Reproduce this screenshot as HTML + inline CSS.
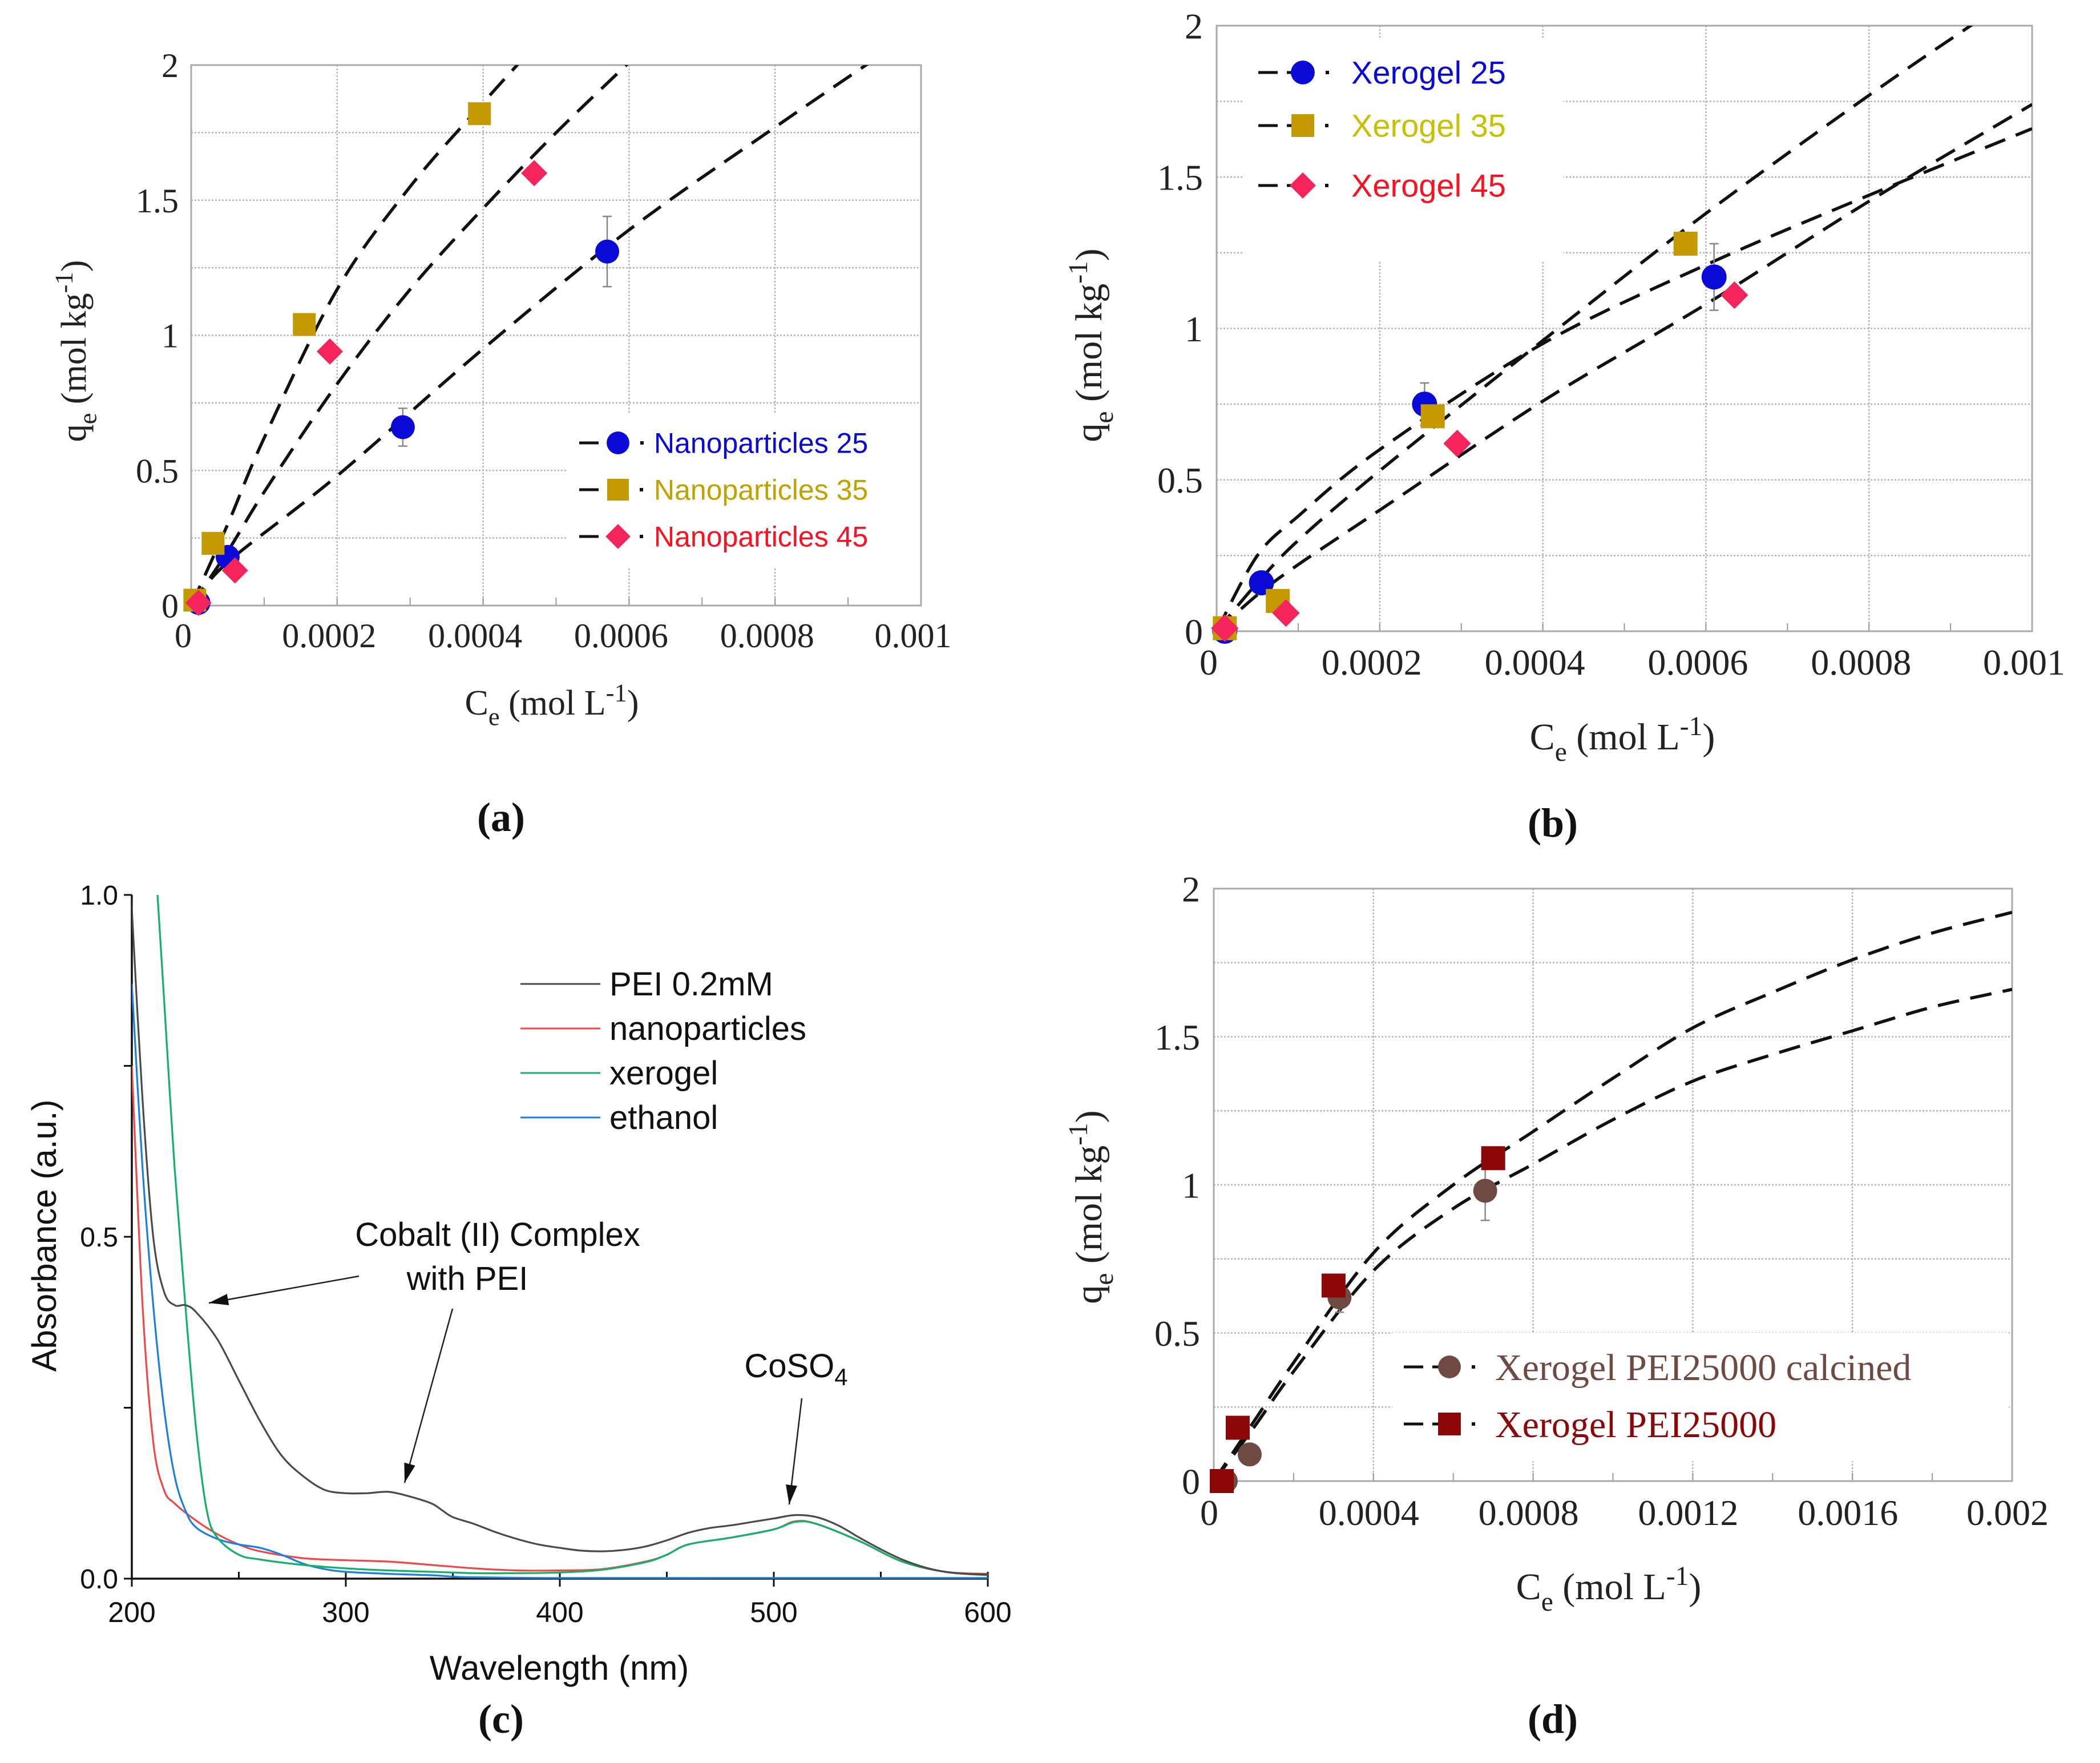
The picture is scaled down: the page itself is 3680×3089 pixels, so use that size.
<!DOCTYPE html>
<html><head><meta charset="utf-8"><title>Adsorption isotherms and UV-Vis spectra</title>
<style>html,body{margin:0;padding:0;background:#fff}svg{display:block}</style></head>
<body>
<svg id="fig" xmlns="http://www.w3.org/2000/svg" width="3680" height="3089" viewBox="0 0 3680 3089">
<rect width="3680" height="3089" fill="#fff"/>
<defs>
<clipPath id="clipA"><rect x="335" y="114" width="1279" height="947"/></clipPath>
<clipPath id="clipB"><rect x="2132" y="45" width="1429" height="1061"/></clipPath>
<clipPath id="clipC"><rect x="231" y="1400" width="1500" height="1367"/></clipPath>
<clipPath id="clipD"><rect x="2127" y="1557" width="1399" height="1038"/></clipPath>
</defs>
</svg>
<script>
// ---------- Panel (a) data ----------
const aN25x=[0.00001,0.00005,0.00029,0.00057];
const aN25y=[0.01,0.18,0.66,1.31];
const aN25err=[0,0,0.07,0.13];
const aN35x=[0.000005,0.00003,0.000155,0.000395];
const aN35y=[0.02,0.23,1.04,1.82];
const aN45x=[0.00001,0.00006,0.00019,0.00047];
const aN45y=[0.01,0.13,0.94,1.60];
const aFit25x=[0,0.00005,0.0002,0.0004,0.0006,0.0008,0.00093];
const aFit25y=[0,0.16,0.48,0.95,1.39,1.77,2.01];
const aFit35x=[0,0.00005,0.0001,0.0002,0.0003,0.0004,0.00045];
const aFit35y=[0,0.30,0.62,1.17,1.55,1.86,2.01];
const aFit45x=[0,0.00005,0.0001,0.0002,0.0003,0.0004,0.0005,0.0006];
const aFit45y=[0,0.20,0.42,0.82,1.17,1.47,1.75,2.01];
const aXTicks=["0","0.0002","0.0004","0.0006","0.0008","0.001"];
const aYTicks=["0","0.5","1","1.5","2"];
// ---------- Panel (b) data ----------
const bX25x=[0.00001,0.000055,0.000255,0.00061];
const bX25y=[0.0,0.16,0.75,1.17];
const bX25err=[0,0,0.07,0.11];
const bX35x=[0.00001,0.000075,0.000265,0.000575];
const bX35y=[0.01,0.10,0.71,1.28];
const bX45x=[0.00001,0.000085,0.000295,0.000635];
const bX45y=[0.01,0.06,0.62,1.11];
const bFit25x=[0,0.00005,0.0001,0.0002,0.0004,0.0006,0.0008,0.001];
const bFit25y=[0,0.25,0.38,0.60,0.95,1.21,1.44,1.66];
const bFit35x=[0,0.00005,0.0001,0.0002,0.0004,0.0006,0.0008,0.00093];
const bFit35y=[0,0.16,0.30,0.53,0.96,1.38,1.77,2.01];
const bFit45x=[0,0.00005,0.0001,0.0002,0.0004,0.0006,0.0008,0.001];
const bFit45y=[0,0.12,0.22,0.40,0.76,1.08,1.42,1.74];
const bXTicks=["0","0.0002","0.0004","0.0006","0.0008","0.001"];
const bYTicks=["0","0.5","1","1.5","2"];
// ---------- Panel (c) data ----------
const cPEIx=[199,200,205,210,215,220,225,230,240,250,260,270,280,290,300,310,320,330,340,345,350,360,370,380,390,400,410,420,430,440,450,460,470,480,490,500,510,520,530,540,550,560,570,580,590,600];
const cPEIy=[1.05,0.98,0.70,0.50,0.42,0.40,0.40,0.39,0.35,0.29,0.23,0.18,0.15,0.13,0.125,0.125,0.127,0.12,0.11,0.10,0.09,0.08,0.068,0.058,0.05,0.045,0.041,0.04,0.042,0.047,0.056,0.067,0.074,0.078,0.083,0.088,0.093,0.09,0.078,0.06,0.043,0.028,0.017,0.01,0.007,0.006];
const cNanox=[200,205,210,215,220,230,240,250,260,280,300,320,340,360,380,400,420,440,450,460,480,500,510,520,540,560,580,600];
const cNanoy=[0.75,0.40,0.20,0.13,0.11,0.085,0.065,0.05,0.04,0.03,0.027,0.025,0.02,0.015,0.012,0.012,0.014,0.025,0.035,0.05,0.06,0.072,0.084,0.08,0.055,0.025,0.01,0.007];
const cXeroX=[212,215,220,225,230,235,240,250,260,280,300,320,340,360,380,400,420,440,450,460,480,500,510,520,540,560,580,600];
const cXeroY=[1.0,0.85,0.60,0.40,0.22,0.10,0.06,0.035,0.028,0.02,0.015,0.012,0.01,0.008,0.008,0.009,0.013,0.024,0.035,0.05,0.06,0.072,0.083,0.08,0.055,0.025,0.01,0.005];
const cEthX=[200,205,210,215,220,225,230,240,250,260,270,280,290,300,320,340,350,360,400,500,600];
const cEthY=[0.87,0.60,0.40,0.25,0.15,0.10,0.075,0.058,0.05,0.045,0.035,0.022,0.014,0.01,0.007,0.005,0.003,0.002,0.001,0.001,0.001];
const cXTicks=["200","300","400","500","600"];
const cYTicks=["0.0","0.5","1.0"];
// ---------- Panel (d) data ----------
const dCalX=[0.00003,0.00009,0.000315,0.00068];
const dCalY=[0.0,0.09,0.62,0.98];
const dCalErr=[0,0,0.05,0.10];
const dPeiX=[0.00002,0.00006,0.0003,0.0007];
const dPeiY=[0.0,0.18,0.66,1.09];
const dFitPx=[0,0.0001,0.0002,0.0004,0.0006,0.0008,0.001,0.0012,0.0014,0.0016,0.0018,0.002];
const dFitPy=[0,0.20,0.40,0.77,1.00,1.18,1.36,1.53,1.65,1.76,1.85,1.92];
const dFitCx=[0,0.0001,0.0002,0.0004,0.0006,0.0008,0.001,0.0012,0.0014,0.0016,0.0018,0.002];
const dFitCy=[0,0.18,0.37,0.71,0.92,1.07,1.22,1.35,1.44,1.52,1.60,1.66];
const dXTicks=["0","0.0004","0.0008","0.0012","0.0016","0.002"];
const dYTicks=["0","0.5","1","1.5","2"];

const NS="http://www.w3.org/2000/svg";
const svg=document.getElementById('fig');
function mk(tag,attrs,parent){const e=document.createElementNS(NS,tag);for(const k in attrs)e.setAttribute(k,attrs[k]);(parent||svg).appendChild(e);return e;}
function lin(d0,d1,r0,r1){return v=>r0+(v-d0)/(d1-d0)*(r1-r0);}
const SERIF='"Liberation Serif", serif';
const SANS='"Liberation Sans", sans-serif';

function marker(g,shape,cx,cy,color,s){
  let m;
  if(shape==='circle'){m=mk('circle',{cx:cx,cy:cy,r:s,fill:color},g);}
  else if(shape==='square'){m=mk('rect',{x:cx-s,y:cy-s,width:2*s,height:2*s,fill:color},g);}
  else {m=mk('polygon',{points:`${cx},${cy-s*1.15} ${cx+s*1.15},${cy} ${cx},${cy+s*1.15} ${cx-s*1.15},${cy}`,fill:color},g);}
  return m;
}
function smoothPath(xs,ys,sx,sy){
  const p=xs.map((x,i)=>[sx(x),sy(ys[i])]);
  let d='M'+p[0][0].toFixed(1)+','+p[0][1].toFixed(1);
  for(let i=0;i<p.length-1;i++){
    const p0=p[Math.max(0,i-1)],p1=p[i],p2=p[i+1],p3=p[Math.min(p.length-1,i+2)];
    const c1=[p1[0]+(p2[0]-p0[0])/6,p1[1]+(p2[1]-p0[1])/6];
    const c2=[p2[0]-(p3[0]-p1[0])/6,p2[1]-(p3[1]-p1[1])/6];
    d+=` C${c1[0].toFixed(1)},${c1[1].toFixed(1)} ${c2[0].toFixed(1)},${c2[1].toFixed(1)} ${p2[0].toFixed(1)},${p2[1].toFixed(1)}`;
  }
  return d;
}
function axisTitle(g,x,y,main,sub,mid,sup,end,size,rot,name){
  const t=mk('text',{x:x,y:y,'font-family':SERIF,'font-size':size,'text-anchor':'middle',fill:'#222'},g);
  if(rot)t.setAttribute('transform',`rotate(-90 ${x} ${y})`);
  
  
  const a=mk('tspan',{},t);a.textContent=main;
  const b=mk('tspan',{dy:size*0.3,'font-size':size*0.72},t);b.textContent=sub;
  const c=mk('tspan',{dy:-size*0.3},t);c.textContent=mid;
  const d=mk('tspan',{dy:-size*0.38,'font-size':size*0.72},t);d.textContent=sup;
  const e=mk('tspan',{dy:size*0.38},t);e.textContent=end;
}

function isoPanel(cfg){
  const g=mk('g',{});
  
  
  const {L,R,T,B,xmax}=cfg;
  const sx=lin(0,xmax,L,R), sy=lin(0,2,B,T);
  const grid=mk('g',{},g);
  
  
  for(let i=1;i<8;i++){const y=sy(i*0.25);mk('line',{x1:L,x2:R,y1:y,y2:y,stroke:'#b5b5b5','stroke-width':2.5,'stroke-dasharray':'3 3'},grid);}
  for(let i=1;i<cfg.xTicks.length-1;i++){const x=L+(R-L)*i/(cfg.xTicks.length-1);mk('line',{x1:x,x2:x,y1:T,y2:B,stroke:'#b5b5b5','stroke-width':2.5,'stroke-dasharray':'3 3'},grid);}
  for(let i=1;i<2*(cfg.xTicks.length-1);i++){const x=L+(R-L)*i/(2*(cfg.xTicks.length-1));mk('line',{x1:x,x2:x,y1:B,y2:B-14,stroke:'#999','stroke-width':2},grid);}
  const fr=mk('rect',{x:L,y:T,width:R-L,height:B-T,fill:'none',stroke:'#aaa','stroke-width':3},g);
  
  
  const lb=mk('rect',cfg.legendBox,g);
  lb.setAttribute('fill','#fff');
  
  
  cfg.xTicks.forEach((t,i)=>{const x=L+(R-L)*i/(cfg.xTicks.length-1);const e=mk('text',{x:x-cfg.xLabShift,y:cfg.xLabY,'font-family':SERIF,'font-size':cfg.tick,'text-anchor':'middle',fill:'#222'},g);e.textContent=t;
    
    });
  cfg.yTicks.forEach((t,i)=>{const y=sy(i*0.5);const e=mk('text',{x:L-cfg.yLabGap,y:y+cfg.tick*0.35,'font-family':SERIF,'font-size':cfg.tick,'text-anchor':'end',fill:'#222'},g);e.textContent=t;
    
    });
  axisTitle(g,cfg.xTitle[0],cfg.xTitle[1],'C','e',' (mol L','-1',')',cfg.title,false,'x-axis-title');
  axisTitle(g,cfg.yTitle[0],cfg.yTitle[1],'q','e',' (mol kg','-1',')',cfg.title,true,'y-axis-title');
  const fits=mk('g',{'clip-path':`url(#${cfg.clip})`},g);
  cfg.fits.forEach(f=>{const p=mk('path',{d:smoothPath(f.x,f.y,sx,sy),fill:'none',stroke:'#111','stroke-width':5.5,'stroke-dasharray':'38 20'},fits);
    
    });
  cfg.series.forEach(s=>{
    const sg=mk('g',{},g);
    
    
    s.x.forEach((xv,i)=>{
      const cx=sx(xv),cy=sy(s.y[i]);
      if(s.err&&s.err[i]){const e=s.err[i];
        mk('line',{x1:cx,x2:cx,y1:sy(s.y[i]-e),y2:sy(s.y[i]+e),stroke:'#888','stroke-width':2.5},sg);
        mk('line',{x1:cx-8,x2:cx+8,y1:sy(s.y[i]-e),y2:sy(s.y[i]-e),stroke:'#888','stroke-width':2.5},sg);
        mk('line',{x1:cx-8,x2:cx+8,y1:sy(s.y[i]+e),y2:sy(s.y[i]+e),stroke:'#888','stroke-width':2.5},sg);}
      const m=marker(sg,s.shape,cx,cy,s.color,s.size);
      
      
    });
  });
  cfg.series.forEach((s,i)=>{
    const y=cfg.legY[i];const lg=mk('g',{},g);
    
    
    const lx=cfg.legX;
    mk('line',{x1:lx,x2:lx+34,y1:y,y2:y,stroke:'#111','stroke-width':5},lg);
    mk('line',{x1:lx+50,x2:lx+80,y1:y,y2:y,stroke:'#111','stroke-width':5},lg);
    marker(lg,s.shape,lx+cfg.legM,y,s.color,s.size*0.95);
    mk('rect',{x:lx+cfg.legM+s.size+18,y:y-3,width:6,height:6,fill:'#111'},lg);
    const t=mk('text',{x:cfg.legT,y:y+cfg.legFont*0.35,'font-family':cfg.legFamily,'font-size':cfg.legFont,fill:s.tcolor||s.color},lg);
    t.textContent=s.label;
  });
  return g;
}

isoPanel({name:'panel-a-nanoparticles-isotherm',L:335,R:1614,T:114,B:1061,xmax:0.001,clip:'clipA',
  xTicks:aXTicks,yTicks:aYTicks,tick:60,xLabY:1134,xLabShift:14,yLabGap:22,title:62,
  xTitle:[967,1252],yTitle:[150,615],
  legendBox:{x:995,y:725,width:617,height:270},
  fits:[{x:aFit25x,y:aFit25y,name:'fit-nanoparticles-25'},{x:aFit35x,y:aFit35y,name:'fit-nanoparticles-35'},{x:aFit45x,y:aFit45y,name:'fit-nanoparticles-45'}],
  series:[{x:aN25x,y:aN25y,err:aN25err,shape:'circle',color:'#0a0ad8',size:21,label:'Nanoparticles 25',name:'series-nanoparticles-25'},
          {x:aN35x,y:aN35y,shape:'square',color:'#c49a00',tcolor:'#c0a300',size:20,label:'Nanoparticles 35',name:'series-nanoparticles-35'},
          {x:aN45x,y:aN45y,shape:'diamond',color:'#f5245a',tcolor:'#ff1020',size:20,label:'Nanoparticles 45',name:'series-nanoparticles-45'}],
  legX:1015,legY:[776,858,940],legM:68,legT:1146,legFont:50,legFamily:SANS});

isoPanel({name:'panel-b-xerogel-isotherm',L:2132,R:3561,T:45,B:1106,xmax:0.001,clip:'clipB',
  xTicks:bXTicks,yTicks:bYTicks,tick:64,xLabY:1182,xLabShift:14,yLabGap:24,title:66,
  xTitle:[2843,1313],yTitle:[1930,605],
  legendBox:{x:2180,y:68,width:560,height:390},
  fits:[{x:bFit25x,y:bFit25y,name:'fit-xerogel-25'},{x:bFit35x,y:bFit35y,name:'fit-xerogel-35'},{x:bFit45x,y:bFit45y,name:'fit-xerogel-45'}],
  series:[{x:bX25x,y:bX25y,err:bX25err,shape:'circle',color:'#0a0ad8',size:22,label:'Xerogel 25',name:'series-xerogel-25'},
          {x:bX35x,y:bX35y,shape:'square',color:'#c49a00',tcolor:'#c8c000',size:21,label:'Xerogel 35',name:'series-xerogel-35'},
          {x:bX45x,y:bX45y,shape:'diamond',color:'#f5245a',tcolor:'#ff1020',size:21,label:'Xerogel 45',name:'series-xerogel-45'}],
  legX:2205,legY:[127,220,325],legM:78,legT:2368,legFont:56,legFamily:SANS});

isoPanel({name:'panel-d-pei25000-isotherm',L:2127,R:3526,T:1557,B:2595,xmax:0.002,clip:'clipD',
  xTicks:dXTicks,yTicks:dYTicks,tick:64,xLabY:2672,xLabShift:8,yLabGap:24,title:66,
  xTitle:[2819,2802],yTitle:[1930,2115],
  legendBox:{x:2440,y:2335,width:1080,height:225},
  fits:[{x:dFitPx,y:dFitPy,name:'fit-xerogel-pei25000'},{x:dFitCx,y:dFitCy,name:'fit-xerogel-pei25000-calcined'}],
  series:[{x:dCalX,y:dCalY,err:dCalErr,shape:'circle',color:'#6e4a43',size:21,label:'Xerogel PEI25000 calcined',name:'series-xerogel-pei25000-calcined'},
          {x:dPeiX,y:dPeiY,shape:'square',color:'#8c0808',size:21,label:'Xerogel PEI25000',name:'series-xerogel-pei25000'}],
  legX:2460,legY:[2395,2495],legM:80,legT:2620,legFont:66,legFamily:SERIF});

// ---------- Panel (c) ----------
(function(){
  const g=mk('g',{});
  
  
  const L=231,R=1731,T=1568,B=2766;
  const sx=lin(200,600,L,R), sy=lin(0,1,B,T);
  const ax=mk('path',{d:`M${L},${T} L${L},${B} L${R},${B}`,fill:'none',stroke:'#111','stroke-width':3.5},g);
  
  
  for(let i=0;i<=8;i++){const x=L+(R-L)*i/8;mk('line',{x1:x,x2:x,y1:B,y2:B+(i%2?-12:14),stroke:'#111','stroke-width':3},g);
    if(i%2===0)mk('line',{x1:x,x2:x,y1:B,y2:B-12,stroke:'#111','stroke-width':3},g);}
  for(let i=0;i<=4;i++){const y=B-(B-T)*i/4;mk('line',{x1:L,x2:L-14,y1:y,y2:y,stroke:'#111','stroke-width':3},g);}
  cXTicks.forEach((t,i)=>{const e=mk('text',{x:L+(R-L)*i/4,y:2842,'font-family':SANS,'font-size':50,'text-anchor':'middle',fill:'#111'},g);e.textContent=t;
    
    });
  cYTicks.forEach((t,i)=>{const e=mk('text',{x:L-24,y:sy(i*0.5)+17,'font-family':SANS,'font-size':48,'text-anchor':'end',fill:'#111'},g);e.textContent=t;
    
    });
  const xt=mk('text',{x:980,y:2943,'font-family':SANS,'font-size':60,'text-anchor':'middle',fill:'#111'},g);xt.textContent='Wavelength (nm)';
  
  
  const yt=mk('text',{x:98,y:2165,'font-family':SANS,'font-size':60,'text-anchor':'middle',fill:'#111',transform:'rotate(-90 98 2165)'},g);yt.textContent='Absorbance (a.u.)';
  
  
  const lines=mk('g',{'clip-path':'url(#clipC)'},g);
  const series=[[cNanox,cNanoy,'#f04848','nanoparticles'],[cEthX,cEthY,'#1a7fe0','ethanol'],[cXeroX,cXeroY,'#12b06a','xerogel'],[cPEIx,cPEIy,'#4a4a4a','PEI 0.2mM']];
  series.forEach(s=>{const p=mk('path',{d:smoothPath(s[0],s[1],sx,sy),fill:'none',stroke:s[2],'stroke-width':3.2},lines);
    
    });
  const leg=[['PEI 0.2mM','#4a4a4a'],['nanoparticles','#f04848'],['xerogel','#12b06a'],['ethanol','#1a7fe0']];
  leg.forEach((l,i)=>{const y=1724+i*78;const lg=mk('g',{},g);
    
    
    mk('line',{x1:912,x2:1052,y1:y,y2:y,stroke:l[1],'stroke-width':3},lg);
    const t=mk('text',{x:1068,y:y+20,'font-family':SANS,'font-size':58,fill:'#111'},lg);t.textContent=l[0];});
  const an=mk('g',{},g);
  
  
  const t1=mk('text',{x:872,y:2183,'font-family':SANS,'font-size':58,'text-anchor':'middle',fill:'#111'},an);t1.textContent='Cobalt (II) Complex';
  const t2=mk('text',{x:819,y:2260,'font-family':SANS,'font-size':58,'text-anchor':'middle',fill:'#111'},an);t2.textContent='with PEI';
  const t3=mk('text',{x:1395,y:2413,'font-family':SANS,'font-size':58,'text-anchor':'middle',fill:'#111'},an);t3.textContent='CoSO';
  const s4=mk('tspan',{dy:14,'font-size':42},t3);s4.textContent='4';
  function arrow(x1,y1,x2,y2){mk('line',{x1:x1,y1:y1,x2:x2,y2:y2,stroke:'#222','stroke-width':2.5},an);
    const a=Math.atan2(y2-y1,x2-x1),l=34,w=10;
    const bx=x2-l*Math.cos(a),by=y2-l*Math.sin(a);
    mk('polygon',{points:`${x2},${y2} ${bx+w*Math.sin(a)},${by-w*Math.cos(a)} ${bx-w*Math.sin(a)},${by+w*Math.cos(a)}`,fill:'#111'},an);}
  arrow(629,2236,366,2283);
  arrow(793,2293,709,2598);
  arrow(1405,2450,1383,2636);
})();

[['(a)',878,1456],['(b)',2721,1466],['(c)',878,3036],['(d)',2721,3036]].forEach(p=>{
  const t=mk('text',{x:p[1],y:p[2],'font-family':SERIF,'font-size':72,'font-weight':'bold','text-anchor':'middle',fill:'#111'});
  t.textContent=p[0];
  
  
});
</script>
</body></html>
